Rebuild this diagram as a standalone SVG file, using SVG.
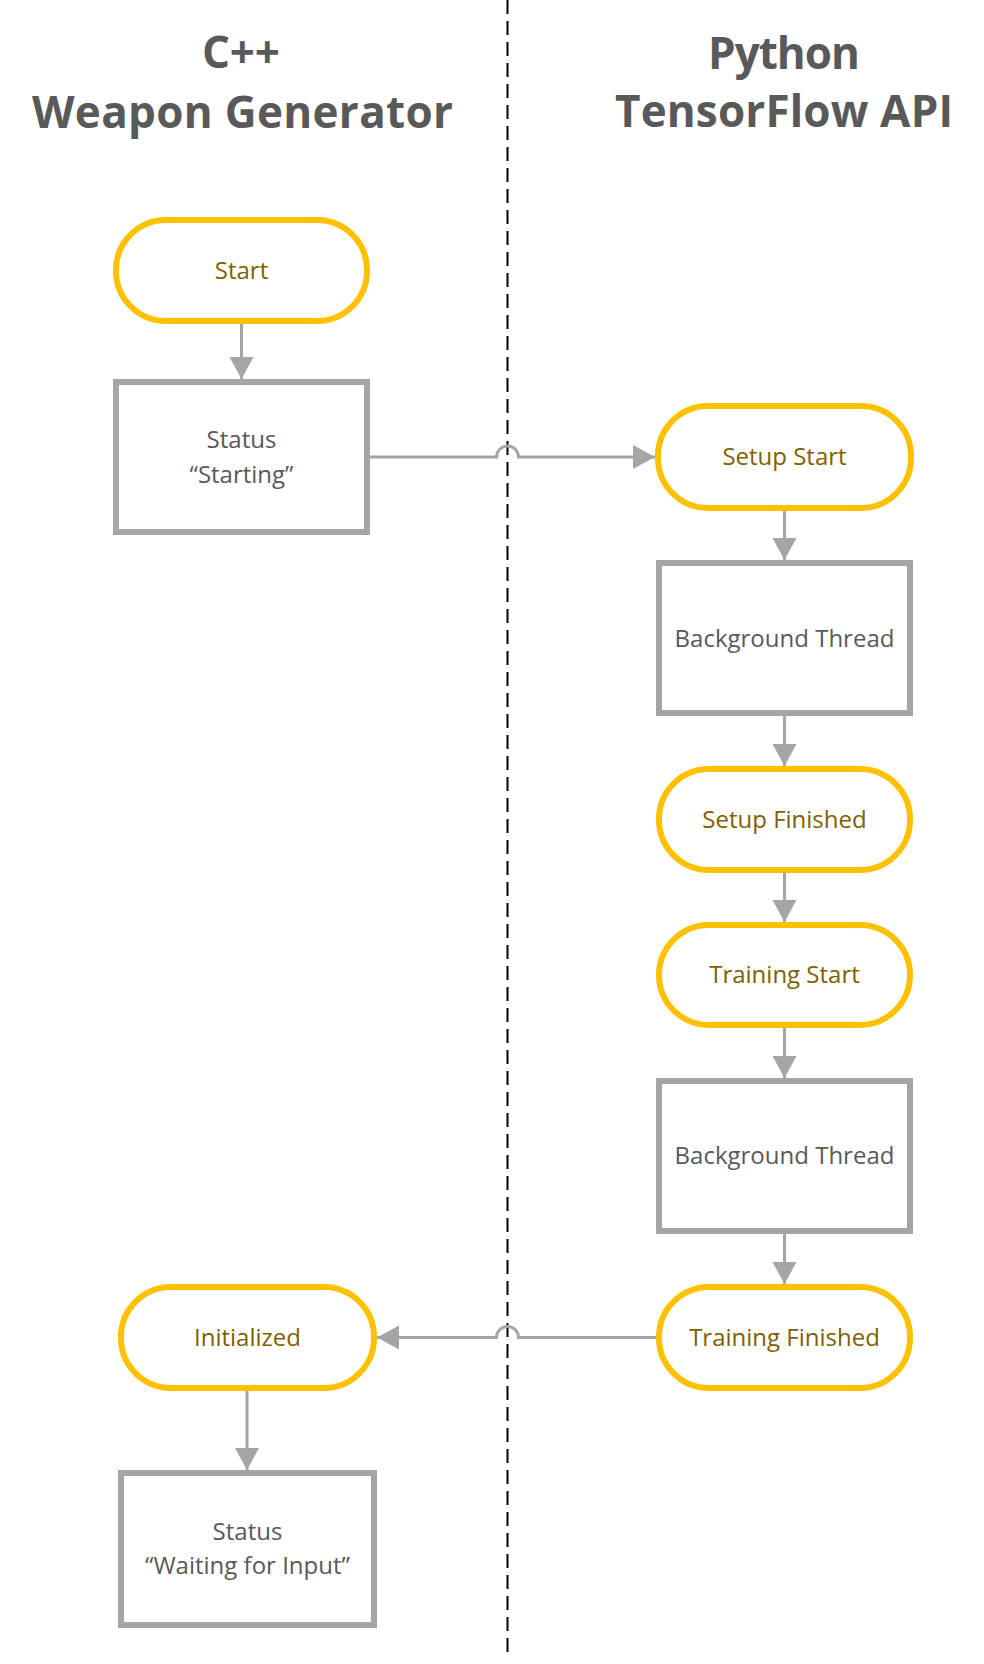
<svg xmlns="http://www.w3.org/2000/svg" width="984" height="1664" viewBox="0 0 984 1664">
  <style>
    .title { font-family: "Open Sans", "Liberation Sans", sans-serif; font-weight: bold; font-size: 44px; fill: #595959; text-anchor: middle; }
    .term { fill: #FFFFFF; stroke: #FFC000; stroke-width: 6; }
    .box { fill: #FFFFFF; stroke: #A5A5A5; stroke-width: 6; }
    .tt { font-family: "Open Sans", "Liberation Sans", sans-serif; font-size: 24px; fill: #7F6000; text-anchor: middle; }
    .bt { font-family: "Open Sans", "Liberation Sans", sans-serif; font-size: 24px; fill: #595959; text-anchor: middle; }
    .conn { fill: none; stroke: #A5A5A5; stroke-width: 3; }
    .divider { stroke: #000000; stroke-width: 2; stroke-dasharray: 14 7; }
  </style>
  <defs>
    <marker id="arrow" markerUnits="userSpaceOnUse" markerWidth="24" markerHeight="26" viewBox="0 0 24 26" refX="22" refY="13" orient="auto">
      <path d="M0,1 L22,13 L0,25 Z" fill="#A5A5A5"/>
    </marker>
  </defs>
  <rect x="0" y="0" width="984" height="1664" fill="#FFFFFF"/>

  <g id="lane-titles">
    <text class="title" x="241" y="68" textLength="78" lengthAdjust="spacing">C++</text>
    <text class="title" x="242.5" y="128" textLength="421" lengthAdjust="spacing">Weapon Generator</text>
    <text class="title" x="784" y="69" textLength="152" lengthAdjust="spacing">Python</text>
    <text class="title" x="784" y="127" textLength="338" lengthAdjust="spacing">TensorFlow API</text>
  </g>

  <g id="lane-divider">
    <line class="divider" x1="507.5" y1="0" x2="507.5" y2="1658"/>
  </g>

  <g id="connectors">
    <path class="conn" d="M241.5,324 L241.5,379" marker-end="url(#arrow)"/>
    <path class="conn" d="M370,457 L496.5,457 A11,11 0 0 1 518.5,457 L655,457" marker-end="url(#arrow)"/>
    <path class="conn" d="M784.5,511 L784.5,560" marker-end="url(#arrow)"/>
    <path class="conn" d="M784.5,716 L784.5,766" marker-end="url(#arrow)"/>
    <path class="conn" d="M784.5,873 L784.5,922" marker-end="url(#arrow)"/>
    <path class="conn" d="M784.5,1028 L784.5,1078" marker-end="url(#arrow)"/>
    <path class="conn" d="M784.5,1234 L784.5,1284" marker-end="url(#arrow)"/>
    <path class="conn" d="M659,1337.5 L518.5,1337.5 A11,11 0 0 0 496.5,1337.5 L377,1337.5" marker-end="url(#arrow)"/>
    <path class="conn" d="M247,1391 L247,1470" marker-end="url(#arrow)"/>
  </g>

  <g id="start">
    <rect class="term" x="116" y="220" width="251" height="101" rx="50" ry="50"/>
    <text class="tt" x="241.5" y="279">Start</text>
  </g>

  <g id="status-starting">
    <rect class="box" x="116" y="382" width="251" height="150"/>
    <text class="bt" x="241.5" y="448">Status</text>
    <text class="bt" x="241.5" y="483">“Starting”</text>
  </g>

  <g id="setup-start">
    <rect class="term" x="658" y="406" width="253" height="102" rx="50" ry="50"/>
    <text class="tt" x="784.5" y="465">Setup Start</text>
  </g>

  <g id="background-thread-1">
    <rect class="box" x="659" y="563" width="251" height="150"/>
    <text class="bt" x="784.5" y="647">Background Thread</text>
  </g>

  <g id="setup-finished">
    <rect class="term" x="659" y="769" width="251" height="101" rx="50" ry="50"/>
    <text class="tt" x="784.5" y="828">Setup Finished</text>
  </g>

  <g id="training-start">
    <rect class="term" x="659" y="925" width="251" height="100" rx="50" ry="50"/>
    <text class="tt" x="784.5" y="983">Training Start</text>
  </g>

  <g id="background-thread-2">
    <rect class="box" x="659" y="1081" width="251" height="150"/>
    <text class="bt" x="784.5" y="1164">Background Thread</text>
  </g>

  <g id="training-finished">
    <rect class="term" x="659" y="1287" width="251" height="101" rx="50" ry="50"/>
    <text class="tt" x="784.5" y="1346">Training Finished</text>
  </g>

  <g id="initialized">
    <rect class="term" x="121" y="1287" width="253" height="101" rx="50" ry="50"/>
    <text class="tt" x="247.5" y="1346">Initialized</text>
  </g>

  <g id="status-waiting">
    <rect class="box" x="121" y="1473" width="253" height="152"/>
    <text class="bt" x="247.5" y="1540">Status</text>
    <text class="bt" x="247.5" y="1574">“Waiting for Input”</text>
  </g>
</svg>
